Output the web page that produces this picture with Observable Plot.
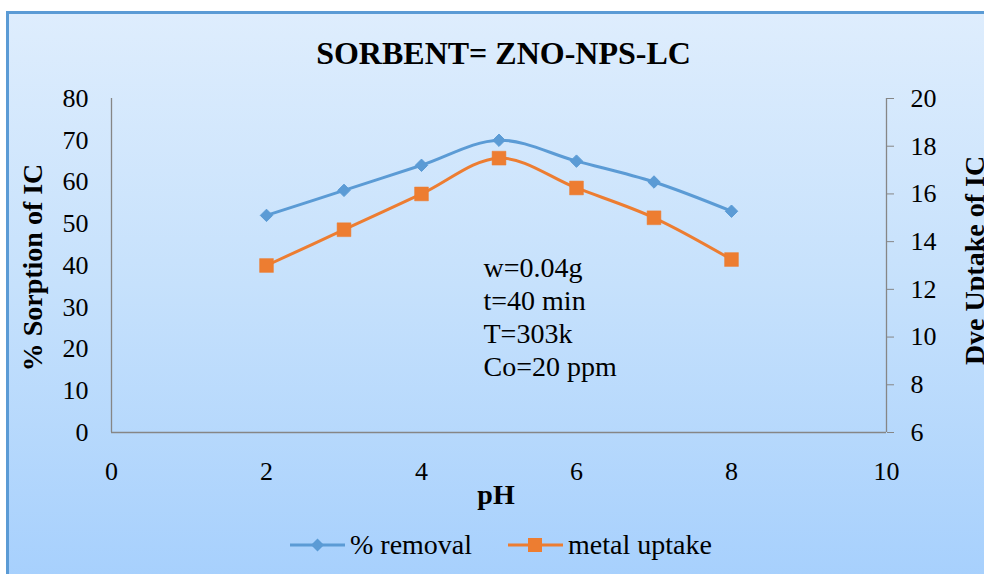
<!DOCTYPE html>
<html>
<head>
<meta charset="utf-8">
<script src="https://cdn.jsdelivr.net/npm/d3@7"></script>
<script src="https://cdn.jsdelivr.net/npm/@observablehq/plot@0.6"></script>
<style>
  html, body { margin: 0; padding: 0; background: #ffffff; width: 984px; height: 574px; overflow: hidden; }
  #panel { position: absolute; left: 6px; top: 11px; width: 1000px; height: 600px;
           border-top: 3px solid #5b9bd5; border-left: 3px solid #5b9bd5;
           background: linear-gradient(to bottom, #deedfd 0%, #c6e1fc 45%, #a3cefd 100%); }
  #chart { position: absolute; left: 0; top: 0; }
  #legend { position: absolute; top: 527px; left: 0; width: 984px; height: 36px;
            font-family: "Liberation Serif", "Times New Roman", Times, serif; font-size: 28px; color: #000; }
  .item { position: absolute; top: 0; display: flex; align-items: center; height: 36px; white-space: nowrap; }
  .item svg { margin-right: 4px; flex: none; }
  #chart svg text { font-family: "Liberation Serif", "Times New Roman", Times, serif; }
</style>
</head>
<body>
<div id="panel"></div>
<div id="chart"></div>
<div id="legend"></div>
<script>
const pH = [2, 3, 4, 5, 6, 7, 8];
const removal = [52, 58, 64, 70, 65, 60, 53];
const uptake = [13, 14.5, 16, 17.5, 16.25, 15, 13.25];
const leftTicks = [0, 10, 20, 30, 40, 50, 60, 70, 80];
const rightTicks = [6, 8, 10, 12, 14, 16, 18, 20];
const xTicks = [0, 2, 4, 6, 8, 10];
const seriesNames = ["% removal", "metal uptake"];
const colors = ["#5b9bd5", "#ed7d31"];
const title = "SORBENT= ZNO-NPS-LC";
const yLabelLeft = "% Sorption of IC";
const yLabelRight = "Dye Uptake of IC";
const xLabel = "pH";
const note = "w=0.04g\nt=40 min\nT=303k\nCo=20 ppm";

// right axis (6..20) mapped onto left scale (0..80)
const rMin = 6, rMax = 20, lMin = 0, lMax = 80;
const toLeft = v => (v - rMin) / (rMax - rMin) * (lMax - lMin) + lMin;
const fromLeft = v => Math.round((v - lMin) / (lMax - lMin) * (rMax - rMin) + rMin);

const rem = pH.map((p, i) => ({pH: p, v: removal[i]}));
const upt = pH.map((p, i) => ({pH: p, v: toLeft(uptake[i])}));

const font = '"Liberation Serif", "Times New Roman", Times, serif';
const axisColor = "#868686";

const chart = Plot.plot({
  width: 984,
  height: 574,
  marginLeft: 111,
  marginRight: 98,
  marginTop: 98,
  marginBottom: 142,
  style: {background: "transparent", fontFamily: font, fontSize: "26px", color: "#000", overflow: "visible"},
  x: {domain: [0, 10]},
  y: {domain: [lMin, lMax]},
  marks: [
    Plot.ruleX([0], {stroke: axisColor, strokeWidth: 1.3}),
    Plot.ruleX([10], {stroke: axisColor, strokeWidth: 1.3}),
    Plot.ruleY([0], {stroke: axisColor, strokeWidth: 1.3}),
    Plot.axisY(leftTicks, {anchor: "left", tickSize: 0, tickPadding: 23, label: null, fontSize: 26, fill: "#000"}),
    Plot.axisY(rightTicks.map(toLeft), {anchor: "right", tickSize: 7, tickPadding: 17, stroke: axisColor,
      tickFormat: fromLeft, label: null, fontSize: 26, fill: "#000"}),
    Plot.axisX(xTicks, {anchor: "bottom", tickSize: 0, tickPadding: 29, label: null, fontSize: 26, fill: "#000"}),
    Plot.line(rem, {x: "pH", y: "v", stroke: colors[0], strokeWidth: 3, curve: "catmull-rom"}),
    Plot.line(upt, {x: "pH", y: "v", stroke: colors[1], strokeWidth: 3, curve: "catmull-rom"}),
    Plot.dot(rem, {x: "pH", y: "v", symbol: "diamond2", r: 5.6, fill: colors[0], stroke: colors[0], strokeWidth: 1}),
    Plot.dot(upt, {x: "pH", y: "v", symbol: "square", r: 7.8, fill: colors[1], stroke: colors[1], strokeWidth: 0.5}),
    Plot.text([note], {x: 4.8, y: 28, text: d => d, textAnchor: "start", lineAnchor: "middle", lineHeight: 1.18, fontSize: 28, fill: "#000"}),
    Plot.text([title], {frameAnchor: "top", textAnchor: "middle", lineAnchor: "middle", dx: 4.5, dy: -45, fontSize: 32, fontWeight: "bold", fill: "#000"}),
    Plot.text([xLabel], {frameAnchor: "bottom", textAnchor: "middle", lineAnchor: "middle", dx: -3, dy: 63, fontSize: 28, fontWeight: "bold", fill: "#000"}),
    Plot.text([yLabelLeft], {frameAnchor: "left", textAnchor: "middle", lineAnchor: "middle", dx: -78, dy: 2, rotate: -90, fontSize: 28, fontWeight: "bold", fill: "#000"}),
    Plot.text([yLabelRight], {frameAnchor: "right", textAnchor: "middle", lineAnchor: "middle", dx: 89, dy: -5, rotate: -90, fontSize: 28, fontWeight: "bold", fill: "#000"})
  ]
});
document.getElementById("chart").appendChild(chart);

// legend
const legend = document.getElementById("legend");
const legendX = [290, 508];
seriesNames.forEach((name, i) => {
  const item = document.createElement("div");
  item.className = "item";
  item.style.left = legendX[i] + "px";
  const marker = i === 0
    ? '<path d="M27.5,11.5 L34,18 L27.5,24.5 L21,18 Z" fill="' + colors[i] + '"/>'
    : '<rect x="20" y="11" width="14" height="14" fill="' + colors[i] + '"/>';
  item.innerHTML = '<svg width="56" height="36"><line x1="0" y1="18" x2="55" y2="18" stroke="' + colors[i] + '" stroke-width="3"/>' + marker + '</svg><span>' + name + '</span>';
  legend.appendChild(item);
});
</script>
</body>
</html>
